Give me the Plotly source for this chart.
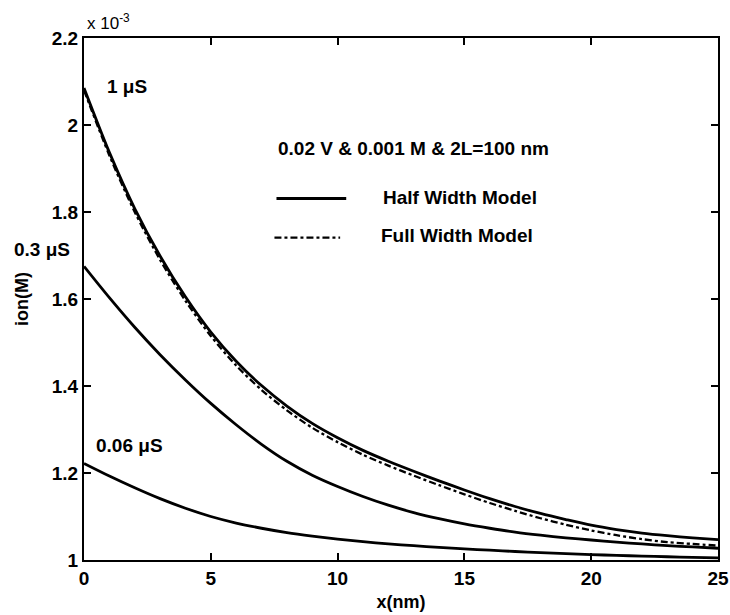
import plotly.graph_objects as go

# Distance from the wall, nm
x_nm = list(range(0, 26))

# Ion concentration in units of 1e-3 M
half_1us = [2.085, 1.937, 1.808, 1.699, 1.605, 1.524, 1.457, 1.401, 1.354, 1.314,
            1.281, 1.252, 1.227, 1.204, 1.182, 1.161, 1.141, 1.123, 1.107, 1.093,
            1.080, 1.070, 1.062, 1.056, 1.051, 1.047]
full_1us = [2.080, 1.930, 1.800, 1.690, 1.596, 1.515, 1.447, 1.391, 1.344, 1.304,
            1.271, 1.242, 1.217, 1.194, 1.172, 1.151, 1.131, 1.113, 1.096, 1.081,
            1.068, 1.057, 1.048, 1.041, 1.037, 1.033]
half_03us = [1.675, 1.603, 1.535, 1.472, 1.414, 1.360, 1.311, 1.266, 1.227, 1.195,
             1.169, 1.146, 1.126, 1.109, 1.095, 1.083, 1.073, 1.064, 1.057, 1.051,
             1.046, 1.041, 1.037, 1.033, 1.030, 1.027]
half_006us = [1.222, 1.193, 1.166, 1.141, 1.119, 1.100, 1.085, 1.073, 1.063, 1.055,
              1.048, 1.042, 1.037, 1.033, 1.029, 1.0255, 1.0225, 1.0195, 1.017, 1.0145,
              1.0125, 1.0105, 1.009, 1.0075, 1.006, 1.005]

y_ticks = [1.0, 1.2, 1.4, 1.6, 1.8, 2.0, 2.2]
x_ticks = [0, 5, 10, 15, 20, 25]

SOLID = dict(color="black", width=2.8, shape="spline", smoothing=0.8)
DASHDOT = dict(color="black", width=2.3, dash="7px,3px,3px,3px", shape="spline", smoothing=0.8)

fig = go.Figure()
for ys in (half_1us, half_03us, half_006us):
    fig.add_trace(go.Scatter(x=x_nm, y=ys, mode="lines", line=SOLID,
                             showlegend=False, hoverinfo="skip"))
fig.add_trace(go.Scatter(x=x_nm, y=full_1us, mode="lines", line=DASHDOT,
                         showlegend=False, hoverinfo="skip"))

BOLD = dict(family="Liberation Sans, Arial, sans-serif", size=19, color="black", weight="bold")

annotations = [
    dict(x=1.69, y=2.089, text="1 μS", showarrow=False, font=BOLD),
    dict(x=-0.019, xref="paper", y=1.714, text="0.3 μS", showarrow=False,
         xanchor="right", font=BOLD),
    dict(x=1.81, y=1.263, text="0.06 μS", showarrow=False, font=BOLD),
    dict(x=13.01, y=1.945, text="0.02 V & 0.001 M & 2L=100 nm", showarrow=False, font=BOLD),
    dict(x=11.71, y=1.833, text="Half Width Model", showarrow=False, xanchor="left", font=BOLD),
    dict(x=11.63, y=1.746, text="Full Width Model", showarrow=False, xanchor="left", font=BOLD),
    dict(x=0.002, xref="paper", y=1.031, yref="paper", text="x 10<sup>-3</sup>",
         showarrow=False, xanchor="left", yanchor="middle",
         font=dict(family="Liberation Sans, Arial, sans-serif", size=17, color="black")),
]

shapes = [
    dict(type="line", x0=7.59, x1=10.34, y0=1.831, y1=1.831,
         line=dict(color="black", width=2.8)),
    dict(type="line", x0=7.51, x1=10.10, y0=1.741, y1=1.741,
         line=dict(color="black", width=2.3, dash="7px,3px,3px,3px")),
]

TICKFONT = dict(family="Liberation Sans, Arial, sans-serif",
                size=19, color="black", weight="bold")

fig.update_layout(
    width=730, height=615,
    margin=dict(l=84, r=12, t=38, b=55),
    paper_bgcolor="white", plot_bgcolor="white",
    annotations=annotations, shapes=shapes,
    xaxis=dict(range=[0, 25], tickvals=x_ticks, ticks="inside", ticklen=7,
               tickcolor="black", tickwidth=1.5, showline=True, linecolor="black",
               linewidth=2, mirror="ticks", showgrid=False, zeroline=False,
               tickfont=TICKFONT, automargin=False,
               title=dict(text="x(nm)", standoff=8,
                          font=dict(family="Liberation Sans, Arial",
                                    size=18, color="black", weight="bold"))),
    yaxis=dict(range=[1.0, 2.2], tickvals=y_ticks, ticks="inside", ticklen=7,
               tickcolor="black", tickwidth=1.5, showline=True, linecolor="black",
               linewidth=2, mirror="ticks", showgrid=False, zeroline=False,
               tickfont=TICKFONT, automargin=False,
               title=dict(text="ion(M)", standoff=18,
                          font=dict(family="Liberation Sans, Arial",
                                    size=18, color="black", weight="bold"))),
)

fig.write_html("out.html")
